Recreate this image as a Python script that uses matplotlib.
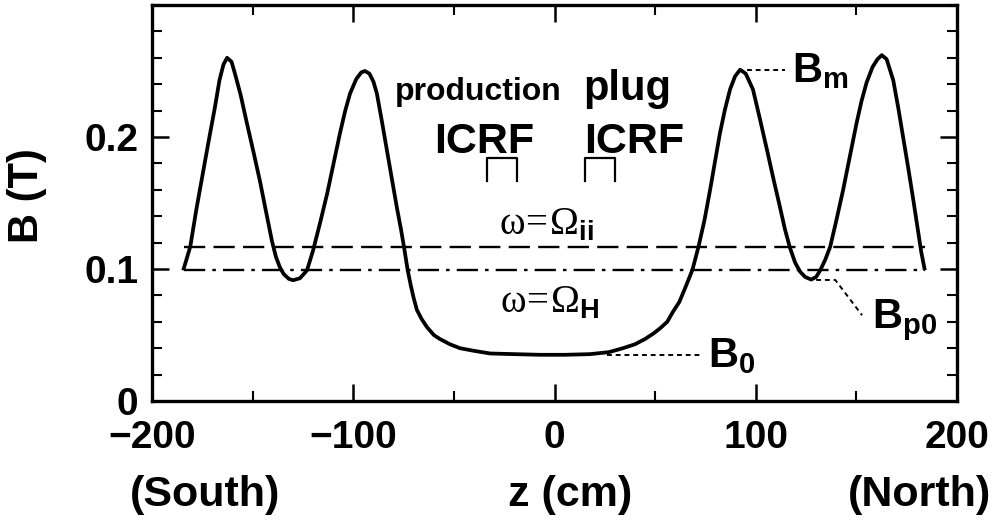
import numpy as np
import matplotlib.pyplot as plt
from matplotlib.ticker import MultipleLocator

# fonts: bold Helvetica-like for everything, serif for the omega labels
plt.rcParams['font.family'] = ['Liberation Sans', 'DejaVu Sans']
plt.rcParams['font.weight'] = 'bold'
plt.rcParams['mathtext.fontset'] = 'custom'
plt.rcParams['mathtext.rm'] = 'Liberation Serif:normal'
plt.rcParams['mathtext.sf'] = 'Liberation Sans:bold'
plt.rcParams['mathtext.bf'] = 'Liberation Sans:bold'

# axial magnetic field profile B(z)
z_prof = [-184.5, -181, -178, -174.7, -171.5, -168.7, -166.5, -164.5, -162.7, -160.5,
          -158.8, -156, -152.8, -149.5, -146.3, -143.3, -140.4, -138.4, -136.4, -134.5,
          -132, -129.9, -126.5, -123, -120, -116.5, -113, -109.8, -106.6, -104,
          -101.6, -98.5, -96, -94.2, -92, -90, -88.3, -85.8, -83.3, -80.8,
          -78.4, -76.3, -74.8, -73, -71.5, -70, -68.4, -66, -63.4, -60,
          -57, -52, -47, -40, -32, -20, -7, 5, 17.6, 27,
          34, 40, 45, 49, 52.4, 56, 59, 62, 65, 68.5,
          71.5, 74.5, 77.3, 79.8, 82.2, 84.7, 87.2, 89.7, 92.2, 95,
          98.6, 102, 105.6, 108.8, 112, 114.5, 117, 119.5, 122, 124.5,
          127.5, 130, 132, 134.5, 137, 140.2, 143.4, 146.7, 150, 152.5,
          155, 158, 160.5, 162.6, 165, 168.3, 170.8, 173.3, 175.8, 178.3,
          180.5, 182.2, 184]
B_prof = [0.099, 0.117, 0.145, 0.173, 0.200, 0.223, 0.243, 0.255, 0.260, 0.257,
          0.248, 0.232, 0.210, 0.188, 0.166, 0.143, 0.121, 0.109, 0.101, 0.096,
          0.0925, 0.0915, 0.093, 0.099, 0.114, 0.135, 0.157, 0.180, 0.203, 0.220,
          0.233, 0.244, 0.249, 0.250, 0.248, 0.242, 0.233, 0.212, 0.190, 0.168,
          0.147, 0.130, 0.1167, 0.0993, 0.088, 0.078, 0.069, 0.062, 0.056, 0.050,
          0.047, 0.043, 0.040, 0.038, 0.036, 0.0355, 0.035, 0.035, 0.0355, 0.037,
          0.040, 0.043, 0.047, 0.051, 0.055, 0.060, 0.068, 0.075, 0.086, 0.0993,
          0.1167, 0.137, 0.160, 0.182, 0.203, 0.221, 0.236, 0.246, 0.251, 0.248,
          0.236, 0.214, 0.190, 0.168, 0.147, 0.130, 0.116, 0.105, 0.098, 0.094,
          0.092, 0.094, 0.099, 0.107, 0.117, 0.138, 0.160, 0.185, 0.210, 0.227,
          0.241, 0.253, 0.259, 0.262, 0.259, 0.243, 0.222, 0.199, 0.176, 0.152,
          0.130, 0.113, 0.099]

# resonance levels
B_ii = 0.1167   # omega = Omega_ii
B_H = 0.0993    # omega = Omega_H
z_res = [-184, 184]

# ICRF antenna extents
ant_prod = [-33.5, -18.6]
ant_plug = [15, 30]
ant_B = [0.167, 0.184]

fig = plt.figure(figsize=(9.99, 5.22), dpi=100)
ax = fig.add_axes([0.1522, 0.2318, 0.8058, 0.7586])

ax.plot(z_prof, B_prof, color='k', lw=2.7, solid_joinstyle='round', solid_capstyle='butt')
ax.plot(z_res, [B_ii, B_ii], color='k', lw=1.7, dashes=(9, 3.5))
ax.plot(z_res, [B_H, B_H], color='k', lw=1.7, dashes=(9, 3, 1.5, 3))

# antenna brackets
for a in (ant_prod, ant_plug):
    ax.plot([a[0], a[0], a[1], a[1]], [ant_B[0], ant_B[1], ant_B[1], ant_B[0]],
            color='k', lw=1.6)

# text labels
ax.text(-37.8, 0.228, 'production', fontsize=23, ha='center', va='baseline')
ax.text(36, 0.228, 'plug', fontsize=30, ha='center', va='baseline')
ax.text(-34.8, 0.188, 'ICRF', fontsize=31, ha='center', va='baseline')
ax.text(39.5, 0.188, 'ICRF', fontsize=31, ha='center', va='baseline')
ax.text(-4, 0.126, r'$\mathrm{\omega\!=\!\Omega}_{\mathsf{ii}}$', fontsize=28,
        ha='center', va='baseline')
ax.text(-2.5, 0.0667, r'$\mathrm{\omega\!=\!\Omega}_{\mathsf{H}}$', fontsize=28,
        ha='center', va='baseline')

# leaders and B labels
ax.plot([95.6, 114.5], [0.251, 0.251], color='k', lw=1.4, dashes=(2.5, 2))
ax.text(118, 0.2417, r'$\mathbf{B}_{\mathbf{m}}$', fontsize=30, ha='left', va='baseline')
ax.plot([26, 73.3], [0.0348, 0.0348], color='k', lw=1.4, dashes=(2.5, 2))
ax.text(76.2, 0.0258, r'$\mathbf{B}_{\mathbf{0}}$', fontsize=30, ha='left', va='baseline')
ax.plot([130, 139.5, 152.8], [0.0917, 0.0917, 0.065], color='k', lw=1.4, dashes=(2.5, 2))
ax.text(157.8, 0.0553, r'$\mathbf{B}_{\mathbf{p0}}$', fontsize=30, ha='left', va='baseline')

ax.set_xlim(-200, 200)
ax.set_ylim(0, 0.3)
ax.set_xticks([-200, -100, 0, 100, 200])
ax.set_yticks([0, 0.1, 0.2])
ax.set_yticklabels(['0', '0.1', '0.2'])
ax.xaxis.set_minor_locator(MultipleLocator(50))
ax.yaxis.set_minor_locator(MultipleLocator(0.02))
ax.tick_params(which='both', direction='in', top=True, right=True, labelsize=28)
ax.tick_params(which='major', length=12, width=1.8)
ax.tick_params(which='minor', length=7, width=1.5)
ax.tick_params(axis='x', pad=14)
ax.tick_params(axis='y', pad=10)
for s in ax.spines.values():
    s.set_linewidth(2.4)

fig.text(205 / 999, 1 - 495 / 522, '(South)', fontsize=31, ha='center', va='center')
fig.text(570 / 999, 1 - 495 / 522, 'z (cm)', fontsize=31, ha='center', va='center')
fig.text(920 / 999, 1 - 495 / 522, '(North)', fontsize=31, ha='center', va='center')
fig.text(27 / 999, 1 - 196 / 522, 'B (T)', fontsize=30, rotation=90, ha='center', va='center')

fig.savefig('out.png', dpi=100)
